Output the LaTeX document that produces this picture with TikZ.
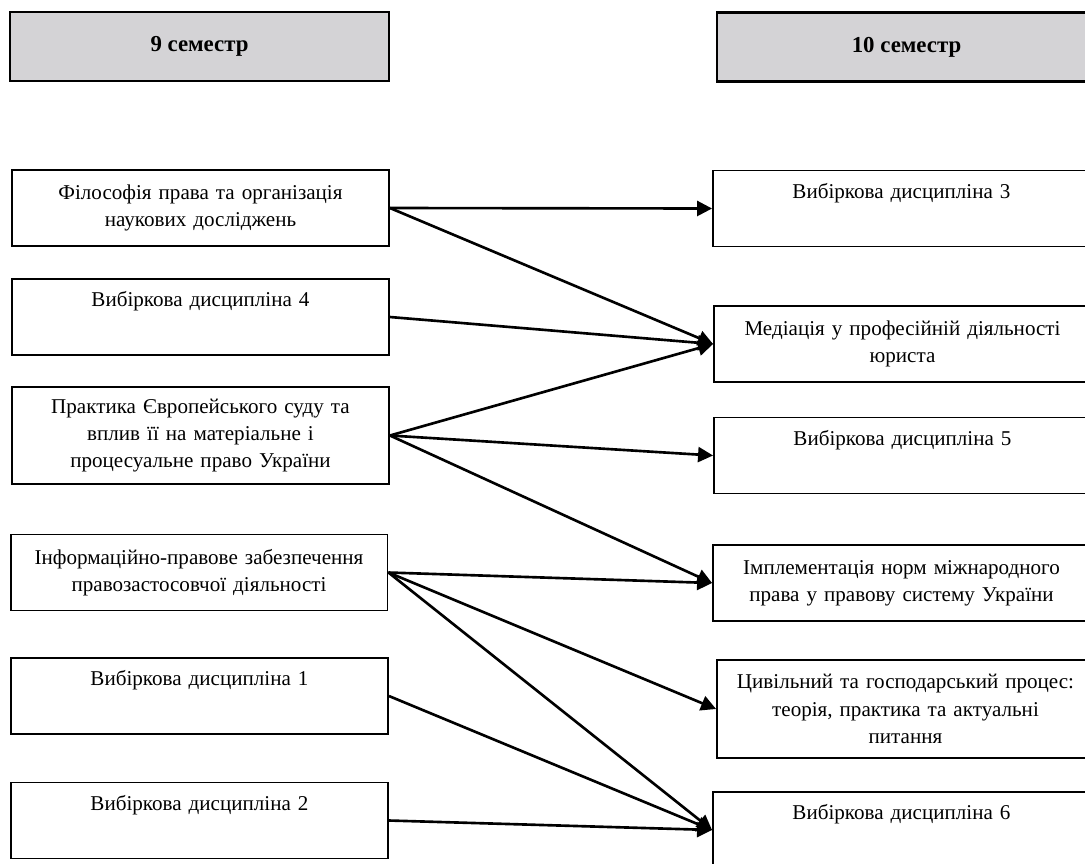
\documentclass[tikz,border=0pt]{standalone}
\usepackage{fontspec}
\setmainfont{Liberation Serif}
\usetikzlibrary{arrows.meta}
\definecolor{semgray}{RGB}{212,211,214}

\begin{document}
\begin{tikzpicture}[x=0.02cm,y=-0.02cm,>={Triangle[length=3mm,width=3mm]}]
    \useasboundingbox (0,0) rectangle (1085,863);

        \begin{scope}[every node/.style={draw,line width=1.2pt,fill=semgray,minimum width=7.58cm,minimum height=1.38cm,font=\fontsize{13}{16}\selectfont\bfseries}]
            \node (s9) at (199.5,46.5) {9 семестр};
            \node (s10) at (906.5,47) {10 семестр};
        \end{scope}

        \begin{scope}[every node/.style={draw,line width=1.1pt,text width=7.34cm,inner xsep=0.1cm,align=center,minimum height=1.52cm,font=\fontsize{12}{15.5}\selectfont}]
            \node (l1) at (200.5,208) {Філософія права та організація\\наукових досліджень};
            \node (l2) at (200.5,317) {Вибіркова дисципліна 4\\\strut};
            \node[minimum height=1.94cm] (l3) at (200.5,435.5) {Практика Європейського суду та\\вплив її на матеріальне і\\процесуальне право України};
            \node (l4) at (199,572.5) {Інформаційно-правове забезпечення\\правозастосовчої діяльності};
            \node (l5) at (199.5,696) {Вибіркова дисципліна 1\\\strut};
            \node (l6) at (199.5,820.5) {Вибіркова дисципліна 2\\\strut};

            \node (r1) at (901.5,208.5) {Вибіркова дисципліна 3\\\strut};
            \node (r2) at (902.5,344) {Медіація у професійній діяльності\\юриста};
            \node (r3) at (902.5,455.5) {Вибіркова дисципліна 5\\\strut};
            \node (r4) at (901.5,583) {Імплементація норм міжнародного\\права у правову систему України};
            \node[minimum height=1.96cm] (r5) at (905.5,709) {Цивільний та господарський процес:\\теорія, практика та актуальні\\питання};
            \node (r6) at (901.5,830) {Вибіркова дисципліна 6\\\strut};
        \end{scope}

        \begin{scope}[every edge/.style={draw,line width=1.5pt}]
            \path [->] (l1.east) edge (r1.west);
            \path [->] (l1.east) edge (r2.west);
            \path [->] (l2.east) edge (r2.west);
            \path [->] (l3.east) edge (r2.west);
            \path [->] (l3.east) edge (r3.west);
            \path [->] (l3.east) edge (r4.west);
            \path [->] (l4.east) edge (r4.west);
            \path [->] (l4.east) edge (r5.west);
            \path [->] (l4.east) edge (r6.west);
            \path [->] (l5.east) edge (r6.west);
            \path [->] (l6.east) edge (r6.west);
        \end{scope}

    \end{tikzpicture}
\end{document}
